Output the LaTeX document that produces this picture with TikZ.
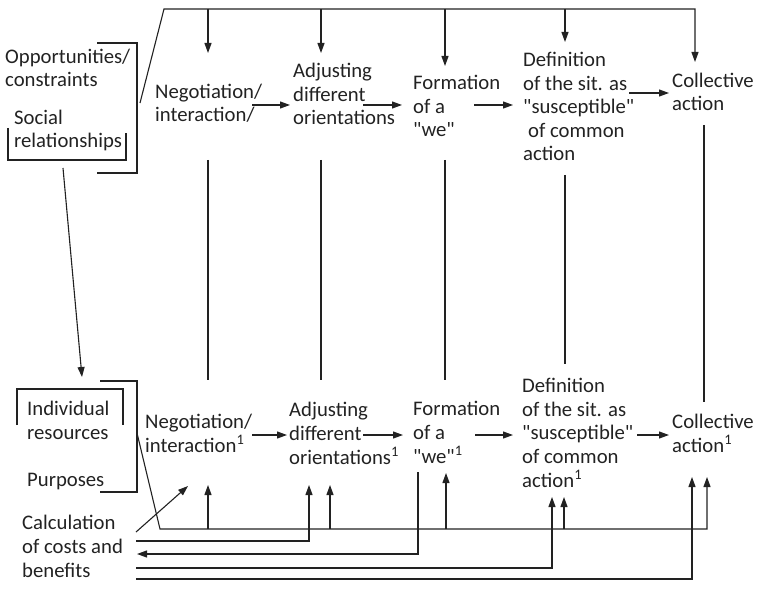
\documentclass[tikz,border=0pt]{standalone}
\usepackage{fontspec}
\setmainfont{Carlito}[Ligatures=TeXOff]
\usetikzlibrary{arrows.meta}
\definecolor{ink}{HTML}{222222}
\newcommand\dq{\symbol{34}}
\begin{document}
\begin{tikzpicture}[x=1bp,y=-1bp,
  lbl/.style={anchor=base west, inner sep=0pt, align=left,
    font=\fontsize{20.8}{23.7}\selectfont, text=ink},
  ln/.style={draw=ink, line width=1.1bp},
  arr/.style={ln, -{Triangle[length=10bp,width=7bp]}},
]
\useasboundingbox (0,0) rectangle (761,595);

% Text nodes are placed by the baseline of their last line.
% ---------- upper (collective) level ----------
\node[lbl] (opp)  at (5,87)    {Opportunities/\\constraints};
\node[lbl] (soc)  at (14,148)  {Social\\relationships};
\node[lbl] (negA) at (155,122) {Negotiation/\\interaction/};
\node[lbl] (adjA) at (293,125) {Adjusting\\different\\orientations};
\node[lbl] (forA) at (413,137) {Formation\\of a\\\dq we\dq};
\node[lbl] (defA) at (523,161) {Definition\\of the sit. as\\\dq susceptible\dq\\\hspace*{5bp}of common\\action};
\node[lbl] (colA) at (672,111) {Collective\\action};

% ---------- lower (individual) level ----------
\node[lbl] (ind)  at (27,439)  {Individual\\resources};
\node[lbl] (pur)  at (27,486)  {Purposes};
\node[lbl] (negB) at (145,452) {Negotiation/\\interaction\textsuperscript{1}};
\node[lbl] (adjB) at (289,464) {Adjusting\\different\\orientations\textsuperscript{1}};
\node[lbl] (forB) at (413,463) {Formation\\of a\\\dq we\dq\textsuperscript{1}};
\node[lbl] (defB) at (522,487) {Definition\\of the sit. as\\\dq susceptible\dq\\of common\\action\textsuperscript{1}};
\node[lbl] (colB) at (672,452) {Collective\\action\textsuperscript{1}};
\node[lbl] (calc) at (22,577)  {Calculation\\of costs and\\benefits};

% ---------- connector points ----------
% brackets, upper level
\coordinate (bkA1) at (97,43);  \coordinate (bkA2) at (137,43);
\coordinate (bkA3) at (137,173); \coordinate (bkA4) at (97,173);
\coordinate (usA1) at (8,128);  \coordinate (usA2) at (8,160);
\coordinate (usA3) at (126,160); \coordinate (usA4) at (126,133);
% feedback bus along the top
\coordinate (busS) at (140,103); \coordinate (busK) at (164,9);
\coordinate (tA1) at (208,53);  \coordinate (tA2) at (321,53);
\coordinate (tA3) at (445,66);  \coordinate (tA4) at (565,42);
\coordinate (tA5) at (695,62);
% social relationships -> individual resources
\coordinate (socOut) at (63,168); \coordinate (indIn) at (82,377);
% horizontal steps, upper level
\coordinate (hA1s) at (252,105); \coordinate (hA1e) at (290,105);
\coordinate (hA2s) at (363,105); \coordinate (hA2e) at (402,105);
\coordinate (hA3s) at (474,105); \coordinate (hA3e) at (513,105);
\coordinate (hA4s) at (629,93);  \coordinate (hA4e) at (669,93);
% links between the two levels
\coordinate (vA1) at (208,160); \coordinate (vB1) at (208,380);
\coordinate (vA2) at (321,160); \coordinate (vB2) at (321,380);
\coordinate (vA3) at (445,160); \coordinate (vB3) at (445,380);
\coordinate (vA4) at (565,175); \coordinate (vB4) at (565,364);
\coordinate (vA5) at (704,125); \coordinate (vB5) at (704,402);
% brackets, lower level
\coordinate (bkB1) at (100,381); \coordinate (bkB2) at (137,381);
\coordinate (bkB3) at (137,492); \coordinate (bkB4) at (100,492);
\coordinate (unB1) at (17,425);  \coordinate (unB2) at (17,389);
\coordinate (unB3) at (123,389); \coordinate (unB4) at (123,425);
% horizontal steps, lower level
\coordinate (hB1s) at (252,435); \coordinate (hB1e) at (287,435);
\coordinate (hB2s) at (363,435); \coordinate (hB2e) at (403,435);
\coordinate (hB3s) at (475,435); \coordinate (hB3e) at (513,435);
\coordinate (hB4s) at (637,435); \coordinate (hB4e) at (669,435);
% resource bus along the bottom
\coordinate (mS) at (137,433); \coordinate (mK) at (160,529);
\coordinate (uT1) at (208,485); \coordinate (uT2) at (330,485);
\coordinate (uT3) at (446,473); \coordinate (uT4) at (564,497);
\coordinate (uT5) at (707,477);
% calculation of costs and benefits
\coordinate (calcD) at (136,532); \coordinate (negIn) at (188,486);
\coordinate (c2) at (136,541); \coordinate (uc2) at (309,485);
\coordinate (f3) at (418,472); \coordinate (c3) at (137,554);
\coordinate (c4) at (136,568); \coordinate (uc4) at (552,497);
\coordinate (c5) at (136,579); \coordinate (uc5) at (692,477);

% ---------- upper level lines ----------
\draw[ln] (bkA1) -- (bkA2) -- (bkA3) -- (bkA4);
\draw[ln] (usA1) -- (usA2) -- (usA3) -- (usA4);
\draw[arr] (busS) -- (busK) -- (busK -| tA5) -- (tA5);
\foreach \t in {tA1,tA2,tA3,tA4}
  \draw[arr] (\t |- busK) -- (\t);
\draw[arr] (socOut) -- (indIn);
\draw[arr] (hA1s) -- (hA1e);
\draw[arr] (hA2s) -- (hA2e);
\draw[arr] (hA3s) -- (hA3e);
\draw[arr] (hA4s) -- (hA4e);

% ---------- links between levels ----------
\foreach \i in {1,...,5}
  \draw[ln] (vA\i) -- (vB\i);

% ---------- lower level lines ----------
\draw[ln] (bkB1) -- (bkB2) -- (bkB3) -- (bkB4);
\draw[ln] (unB1) -- (unB2) -- (unB3) -- (unB4);
\draw[arr] (hB1s) -- (hB1e);
\draw[arr] (hB2s) -- (hB2e);
\draw[arr] (hB3s) -- (hB3e);
\draw[arr] (hB4s) -- (hB4e);

\draw[arr] (mS) -- (mK) -- (mK -| uT5) -- (uT5);
\foreach \t in {uT1,uT2,uT3,uT4}
  \draw[arr] (\t |- mK) -- (\t);

\draw[arr] (calcD) -- (negIn);
\draw[arr] (c2) -- (c2 -| uc2) -- (uc2);
\draw[arr] (f3) -- (f3 |- c3) -- (c3);
\draw[arr] (c4) -- (c4 -| uc4) -- (uc4);
\draw[arr] (c5) -- (c5 -| uc5) -- (uc5);
\end{tikzpicture}
\end{document}
